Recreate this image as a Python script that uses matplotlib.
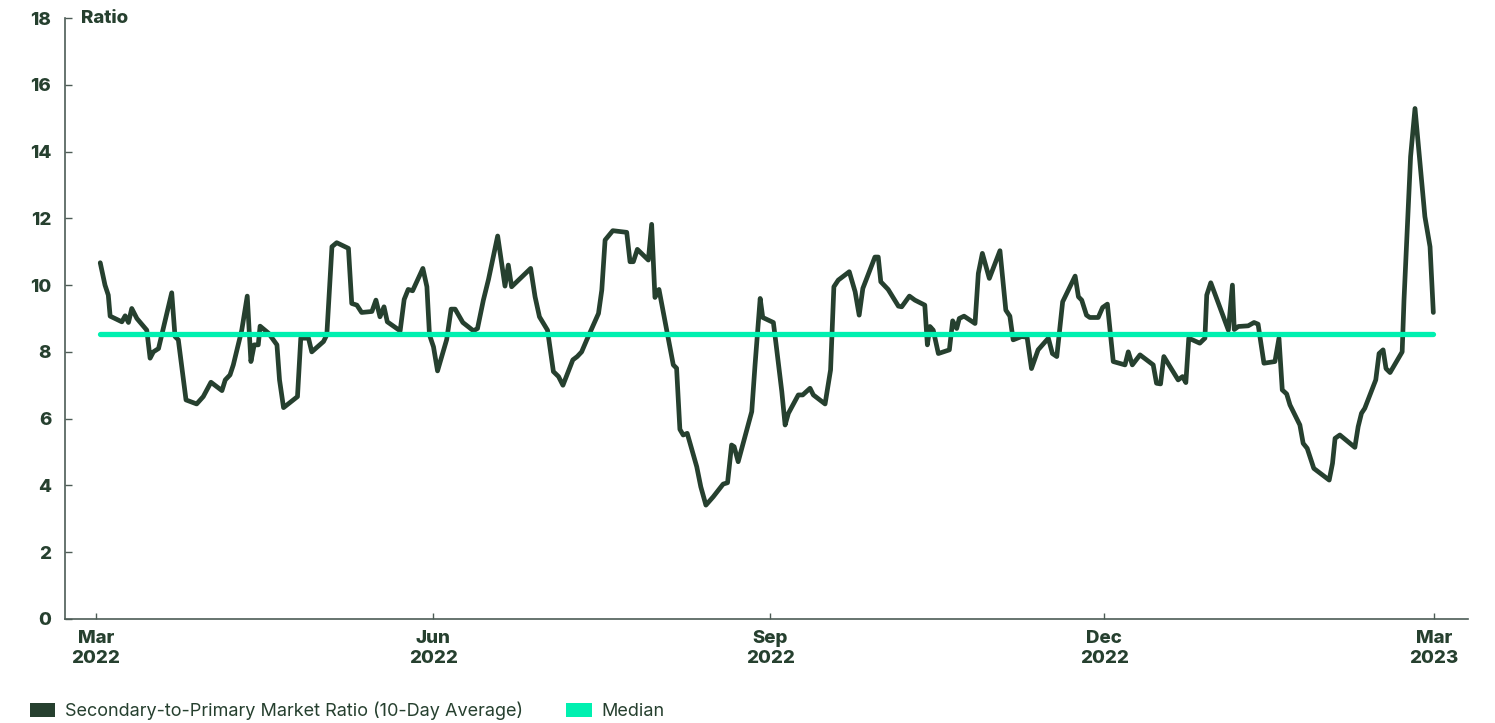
import matplotlib
matplotlib.use("Agg")
import matplotlib.pyplot as plt
from matplotlib.patches import Patch
import numpy as np
import pandas as pd

# --- Data ---
start_date = "2022-03-01"

# days since 2022-03-01
days = [
    1.2, 2.5, 3.4, 3.9, 7.1, 8.0, 8.9, 9.8, 11.2, 13.9,
    14.8, 15.7, 17.1, 20.7, 21.6, 22.5, 24.6, 27.5, 29.3, 31.4,
    34.4, 35.3, 36.6, 37.5, 39.8, 41.3, 42.3, 43.2, 44.3, 44.8,
    47.1, 49.4, 50.1, 51.2, 55.0, 55.9, 58.0, 58.9, 62.1, 63.0,
    64.4, 65.7, 68.9, 69.8, 71.2, 72.5, 75.3, 76.4, 77.5, 78.6,
    79.5, 83.0, 84.1, 85.2, 86.4, 89.2, 90.3, 91.0, 92.1, 93.2,
    95.7, 96.9, 98.0, 100.1, 103.0, 104.1, 105.7, 107.1, 109.6, 111.6,
    112.5, 113.4, 118.6, 119.8, 121.0, 123.2, 124.8, 126.2, 127.4, 130.1,
    131.3, 132.5, 133.9, 137.1, 138.0, 138.9, 141.0, 144.8, 145.7, 146.6,
    147.7, 150.7, 151.6, 152.5, 153.6, 155.7, 157.5, 158.4, 159.3, 160.2,
    161.3, 163.9, 165.0, 166.4, 168.4, 171.1, 172.3, 173.4, 174.1, 175.2,
    178.9, 179.8, 181.2, 181.9, 184.8, 185.5, 187.1, 188.0, 188.9, 191.6,
    192.8, 194.8, 195.7, 198.9, 200.4, 201.3, 202.5, 205.5, 207.1, 208.2,
    209.2, 212.5, 213.4, 214.1, 216.1, 218.9, 219.8, 221.9, 223.4, 226.1,
    226.8, 227.5, 228.4, 229.8, 232.8, 233.7, 234.8, 235.5, 236.8, 239.8,
    240.7, 241.8, 243.7, 246.6, 248.2, 249.3, 250.2, 252.5, 254.0, 255.2,
    257.0, 259.8, 260.9, 262.1, 263.7, 267.1, 268.0, 268.9, 270.2, 271.1,
    273.4, 274.6, 275.9, 277.5, 280.7, 281.6, 282.7, 284.8, 288.4, 289.3,
    290.4, 291.3, 295.2, 296.4, 297.3, 298.1, 301.1, 302.5, 303.0, 304.1,
    308.9, 310.0, 310.5, 311.6, 314.3, 315.9, 317.0, 318.6, 321.6, 322.7,
    323.6, 324.8, 325.7, 328.4, 329.3, 330.4, 332.2, 336.4, 337.3, 338.0,
    339.3, 343.4, 344.3, 345.2, 346.1, 349.1, 350.0, 351.1, 351.9, 353.0,
    356.3, 356.8, 358.6, 359.8, 362.5, 363.9, 364.8,
]

ratio = [
    10.67, 10.0, 9.7, 9.07, 8.9, 9.08, 8.88, 9.3, 9.0, 8.65,
    7.81, 8.0, 8.1, 9.77, 8.46, 8.36, 6.56, 6.44, 6.66, 7.09,
    6.84, 7.16, 7.31, 7.61, 8.65, 9.67, 7.71, 8.21, 8.21, 8.77,
    8.56, 8.21, 7.16, 6.33, 6.66, 8.41, 8.41, 8.0, 8.31, 8.51,
    11.15, 11.27, 11.1, 9.45, 9.4, 9.18, 9.21, 9.55, 9.05, 9.35,
    8.9, 8.63, 9.57, 9.87, 9.83, 10.5, 9.95, 8.51, 8.15, 7.43,
    8.37, 9.28, 9.28, 8.88, 8.63, 8.7, 9.55, 10.17, 11.47, 9.97,
    10.6, 9.95, 10.5, 9.65, 9.05, 8.65, 7.41, 7.26, 7.0, 7.76,
    7.86, 8.0, 8.36, 9.15, 9.85, 11.35, 11.63, 11.58, 10.7, 10.7,
    11.07, 10.75, 11.82, 9.63, 9.87, 8.65, 7.61, 7.51, 5.68, 5.51,
    5.56, 4.56, 3.96, 3.41, 3.66, 4.04, 4.08, 5.21, 5.16, 4.71,
    6.21, 7.61, 9.6, 9.03, 8.88, 8.26, 6.81, 5.81, 6.16, 6.71,
    6.71, 6.91, 6.71, 6.44, 7.46, 9.95, 10.15, 10.4, 9.8, 9.1,
    9.9, 10.84, 10.84, 10.1, 9.87, 9.37, 9.35, 9.67, 9.55, 9.4,
    8.21, 8.76, 8.65, 7.95, 8.06, 8.93, 8.7, 9.0, 9.07, 8.85,
    10.35, 10.95, 10.2, 11.03, 9.25, 9.07, 8.36, 8.46, 8.44, 7.5,
    8.06, 8.41, 7.95, 7.86, 9.5, 10.27, 9.65, 9.55, 9.1, 9.03,
    9.03, 9.33, 9.43, 7.71, 7.61, 8.0, 7.61, 7.91, 7.61, 7.06,
    7.04, 7.86, 7.16, 7.26, 7.08, 8.41, 8.26, 8.41, 9.7, 10.07,
    8.65, 10.0, 8.67, 8.76, 8.78, 8.88, 8.83, 7.66, 7.71, 8.41,
    6.86, 6.74, 6.41, 5.81, 5.26, 5.11, 4.51, 4.16, 4.66, 5.41,
    5.51, 5.14, 5.76, 6.16, 6.31, 7.16, 7.95, 8.06, 7.5, 7.38,
    8.0, 9.55, 13.85, 15.29, 12.05, 11.15, 9.18,
]

median_value = 8.55

tick_dates = ["2022-03-01", "2022-06-01", "2022-09-01", "2022-12-01", "2023-03-01"]
tick_labels = ["Mar\n2022", "Jun\n2022", "Sep\n2022", "Dec\n2022", "Mar\n2023"]
y_ticks = [0, 2, 4, 6, 8, 10, 12, 14, 16, 18]

series_label = "Secondary-to-Primary Market Ratio (10-Day Average)"
median_label = "Median"

# --- Style ---
DARK = "#26402f"
MINT = "#00f0b0"
SPINE = "#4d5c56"
TICK_FS = 13.5

plt.rcParams["font.family"] = ["Inter", "DejaVu Sans"]

t0 = pd.Timestamp(start_date)
dates = t0 + pd.to_timedelta(np.array(days), unit="D")

fig = plt.figure(figsize=(14.95, 7.23), dpi=100)
ax = fig.add_axes([0.0435, 0.1439, 0.9383, 0.8312])

ax.plot(dates, ratio, color=DARK, linewidth=3.4,
        solid_joinstyle="round", solid_capstyle="round", zorder=2)
ax.plot([dates[0], dates[-1]], [median_value, median_value], color=MINT,
        linewidth=3.8, solid_capstyle="round", zorder=3)

ax.set_xlim(t0 - pd.Timedelta(days=8.4), t0 + pd.Timedelta(days=374.2))
ax.set_ylim(0, 18)

ax.set_xticks(pd.to_datetime(tick_dates))
ax.set_xticklabels(tick_labels, fontsize=TICK_FS, fontweight=800, color=DARK,
                   linespacing=1.2)
ax.set_yticks(y_ticks)
ax.set_yticklabels([str(v) for v in y_ticks], fontsize=TICK_FS,
                   fontweight=800, color=DARK)

ax.tick_params(axis="x", direction="in", length=4, width=1, color=SPINE, pad=8)
ax.tick_params(axis="y", direction="in", length=5, width=1, color=SPINE, pad=10)

for side in ["top", "right"]:
    ax.spines[side].set_visible(False)
for side in ["left", "bottom"]:
    ax.spines[side].set_color(SPINE)
    ax.spines[side].set_linewidth(1.2)

ax.text(0.0114, 1.0, "Ratio", transform=ax.transAxes, fontsize=TICK_FS,
        fontweight=800, color=DARK, ha="left", va="center")

# --- Legend ---
handles = [Patch(facecolor=DARK, edgecolor="none"),
           Patch(facecolor=MINT, edgecolor="none")]
fig.legend(handles, [series_label, median_label], loc="center left",
           bbox_to_anchor=(0.02, 0.0166), ncol=2, frameon=False,
           fontsize=13, handlelength=1.4, handleheight=0.8,
           handletextpad=0.55, columnspacing=2.4, borderpad=0,
           borderaxespad=0, labelcolor=DARK)

fig.savefig("out.png", dpi=100)
plt.close(fig)
